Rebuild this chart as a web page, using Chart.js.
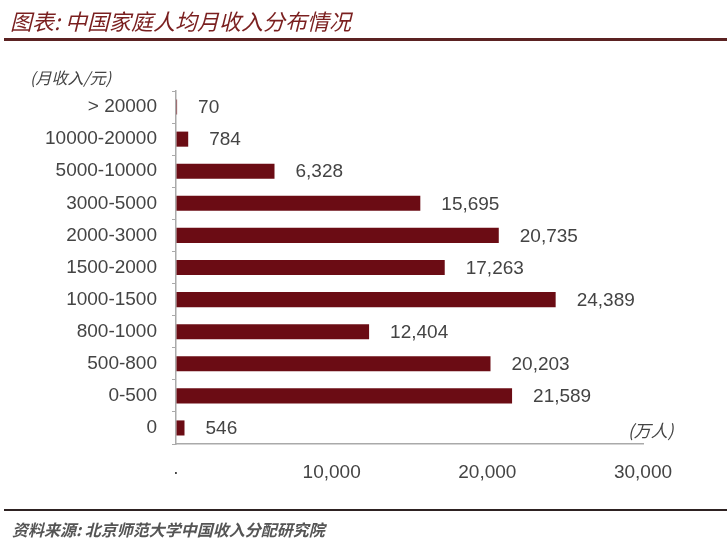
<!DOCTYPE html>
<html><head><meta charset="utf-8">
<script src="https://cdn.jsdelivr.net/npm/chart.js@4/dist/chart.umd.min.js"></script>
<style>
html,body{margin:0;padding:0;background:#fff;width:727px;height:556px;overflow:hidden;}
#wrap{position:relative;width:727px;height:556px;}
canvas{position:absolute;left:0;top:0;}
.t{position:absolute;font-family:"Noto Sans CJK SC",sans-serif;font-style:italic;white-space:nowrap;}
#title{left:10px;top:4px;font-size:22px;color:#7a1f1f;}
#rule1{position:absolute;left:4px;top:38px;width:723px;height:3px;background:#5b2222;}
#rule2{position:absolute;left:4px;top:509px;width:723px;height:2px;background:#2e2222;}
#src{left:12px;top:517px;font-size:16px;color:#555;font-weight:bold;}
#yunit{left:30px;top:65px;font-size:16px;color:#444;}
#xunit{left:628px;top:417px;font-size:17px;color:#444;}
</style></head><body>
<div id="wrap">
<canvas id="c" width="727" height="556"></canvas>
<div class="t" id="title">图表: 中国家庭人均月收入分布情况</div>
<div id="rule1"></div>
<div id="rule2"></div>
<div class="t" id="src">资料来源: 北京师范大学中国收入分配研究院</div>
<div class="t" id="yunit">(月收入/元)</div>
<div class="t" id="xunit">(万人)</div>
</div>
<script>
const categories = ["> 20000","10000-20000","5000-10000","3000-5000","2000-3000","1500-2000","1000-1500","800-1000","500-800","0-500","0"];
const population = [70,784,6328,15695,20735,17263,24389,12404,20203,21589,546];
const xTicks = [0,10000,20000,30000];

const valueLabels = {
  id:'valueLabels',
  afterDatasetsDraw(chart){
    const ctx = chart.ctx;
    const meta = chart.getDatasetMeta(0);
    ctx.save();
    ctx.font = '19px "Liberation Sans", Arial, sans-serif';
    ctx.fillStyle = '#444';
    ctx.textAlign = 'left';
    ctx.textBaseline = 'middle';
    meta.data.forEach((bar,i)=>{
      ctx.fillText(population[i].toLocaleString('en-US'), bar.x + 21, bar.y + 1);
    });
    ctx.restore();
  }
};

new Chart(document.getElementById('c'), {
  type:'bar',
  data:{labels:categories,datasets:[{data:population,backgroundColor:'#6b0c14',borderWidth:0,categoryPercentage:1,barPercentage:0.47}]},
  options:{
    indexAxis:'y',
    responsive:false,
    animation:false,
    devicePixelRatio:1,
    layout:{padding:{left:0,top:91,right:84,bottom:72}},
    plugins:{legend:{display:false},tooltip:{enabled:false},title:{display:false}},
    scales:{
      x:{
        min:0,max:30000,
        afterBuildTicks(s){ s.ticks = xTicks.map(v=>({value:v})); },
        afterFit(s){ s.height = 40; },
        grid:{drawOnChartArea:false,drawTicks:false},
        border:{display:true,color:'#aaa',width:1.5},
        ticks:{padding:17,color:'#444',font:{family:'"Liberation Sans", Arial, sans-serif',size:19},
          callback:(v)=> v===0 ? '·' : Number(v).toLocaleString('en-US')}
      },
      y:{
        afterFit(s){ s.width = 176; },
        grid:{drawOnChartArea:false,drawTicks:true,tickLength:4,offset:true,color:'#aaa'},
        border:{display:true,color:'#aaa',width:1.5},
        ticks:{padding:15,color:'#444',font:{family:'"Liberation Sans", Arial, sans-serif',size:19}}
      }
    }
  },
  plugins:[valueLabels]
});
</script>
</body></html>
